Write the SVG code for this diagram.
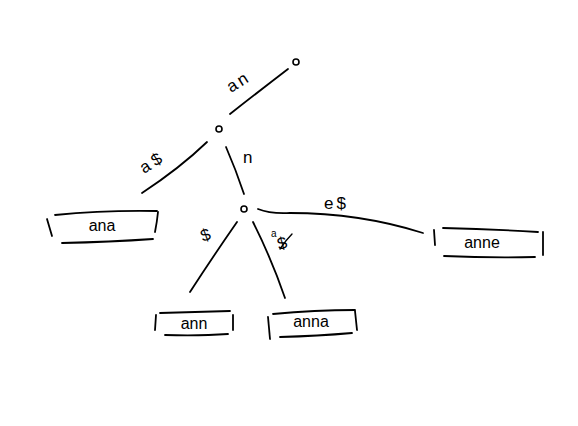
<svg xmlns="http://www.w3.org/2000/svg" width="578" height="426" viewBox="0 0 578 426">
  <style>
    .ink { fill: none; stroke: #000; stroke-width: 1.8; stroke-linecap: round; stroke-linejoin: round; }
    .dot { fill: none; stroke: #000; stroke-width: 1.6; }
    .lbl { font-family: "Liberation Sans", "DejaVu Sans", sans-serif; font-size: 17px; fill: #000; }
    .word { font-family: "Liberation Sans", "DejaVu Sans", sans-serif; font-size: 16px; fill: #000; text-anchor: middle; }
  </style>
  <rect width="578" height="426" fill="#fff"/>

  <!-- connectors -->
  <g id="edges">
    <path class="ink" d="M230,114 Q258,92 288,69"/>
    <path class="ink" d="M142,193 Q180,168 207,142"/>
    <path class="ink" d="M226,147 Q236,170 244,194"/>
    <path class="ink" d="M237,222 Q212,258 190,292"/>
    <path class="ink" d="M253,222 Q272,260 285,298"/>
    <path class="ink" d="M258,209 Q270,214 290,213 Q360,213 423,233"/>
    <text class="lbl" style="letter-spacing:3px" transform="translate(231,93) rotate(-32)">an</text>
    <text class="lbl" style="letter-spacing:4px" transform="translate(144,174) rotate(-32)">a$</text>
    <text class="lbl" x="243" y="163">n</text>
    <text class="lbl" transform="translate(203,242) rotate(-20)">$</text>
    <text class="lbl" style="font-size:10px" x="271" y="237">a</text>
    <text class="lbl" transform="translate(279,250) rotate(-15)">$</text>
    <path class="ink" d="M280,249 Q286,240 292,234" style="stroke-width:1.4"/>
    <text class="lbl" style="letter-spacing:3px" x="324" y="209">e$</text>
  </g>

  <g id="root">
    <circle class="dot" cx="296" cy="62" r="3"/>
  </g>
  <g id="node-an">
    <circle class="dot" cx="219" cy="129" r="3"/>
  </g>
  <g id="node-ann">
    <circle class="dot" cx="244" cy="209" r="3"/>
  </g>

  <g id="leaf-ana">
    <path class="ink" d="M47,219 L52,236"/>
    <path class="ink" d="M55,215 Q105,210 157,211"/>
    <path class="ink" d="M158,212 Q157,222 155,232"/>
    <path class="ink" d="M62,243 Q110,242 153,239"/>
    <text class="word" x="102" y="231">ana</text>
  </g>

  <g id="leaf-ann">
    <path class="ink" d="M156,315 L155,330"/>
    <path class="ink" d="M160,313 Q195,312 230,311"/>
    <path class="ink" d="M233,315 L233,330"/>
    <path class="ink" d="M165,335 Q200,336 228,334"/>
    <text class="word" x="194" y="329">ann</text>
  </g>

  <g id="leaf-anna">
    <path class="ink" d="M268,317 L270,339"/>
    <path class="ink" d="M273,314 Q315,310 355,310"/>
    <path class="ink" d="M355,311 L357,330"/>
    <path class="ink" d="M280,337 Q318,336 352,333"/>
    <text class="word" x="311" y="327">anna</text>
  </g>

  <g id="leaf-anne">
    <path class="ink" d="M434,230 L435,245"/>
    <path class="ink" d="M443,228 Q490,229 538,232"/>
    <path class="ink" d="M543,232 L543,255"/>
    <path class="ink" d="M444,256 Q490,258 535,257"/>
    <text class="word" x="482" y="248">anne</text>
  </g>
</svg>
